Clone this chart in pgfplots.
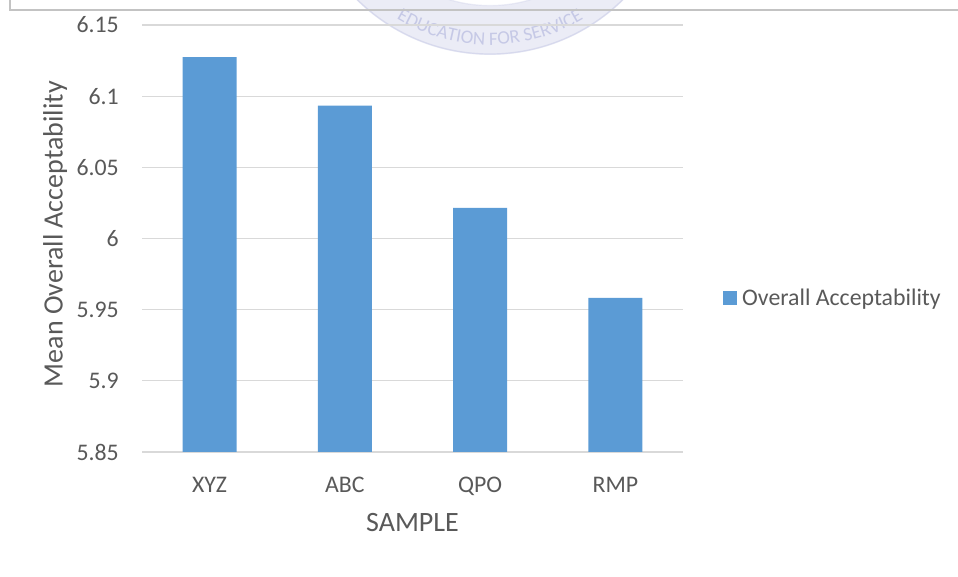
\documentclass[border=0pt]{standalone}
\usepackage{fontspec}
\setmainfont{Carlito}
\usepackage{pgfplots}
\pgfplotsset{compat=1.18}
\usetikzlibrary{decorations.text}
\definecolor{barblue}{HTML}{5B9BD5}
\definecolor{txt}{HTML}{595959}
\definecolor{gridc}{HTML}{D9D9D9}
\definecolor{seal}{HTML}{C6C9E6}
\newcommand{\tickfont}{\fontsize{23.8}{28}\selectfont}
\newcommand{\titlefont}{\fontsize{28}{32}\selectfont}

\begin{document}
\begin{tikzpicture}
\useasboundingbox (0pt,0pt) rectangle (958pt,577pt);
% faint seal watermark at the top
\begin{scope}
 \clip (0pt,0pt) rectangle (958pt,577pt);
 \fill[seal!35,even odd rule] (490pt,712pt) circle (190pt) (490pt,712pt) circle (140pt);
 \draw[seal!70,line width=1.2pt] (490pt,712pt) circle (189pt);
 \draw[seal!60] (490pt,712pt) circle (141pt);
 \path[decorate,decoration={text along path,text align=center,text color=seal,
   text={|\fontsize{19}{19}\selectfont|EDUCATION FOR SERVICE}}]
   (490pt,712pt) ++(230:180pt) arc[start angle=230,end angle=310,radius=180pt];
\end{scope}
% chart border
\draw[gridc!90!black,line width=1.3pt] (10pt,577pt) -- (10pt,567pt) -- (958pt,567pt);

\begin{axis}[at={(142pt,125pt)},anchor=south west,scale only axis,
 width=541pt,height=427pt,
 ybar,bar width=54pt,
 xmin=-0.5,xmax=3.5,ymin=5.85,ymax=6.15,
 xtick={0,1,2,3},xticklabels={XYZ,ABC,QPO,RMP},
 ytick={5.85,5.9,5.95,6,6.05,6.1,6.15},
 yticklabels={5.85,5.9,5.95,6,6.05,6.1,6.15},
 axis line style={draw=none},major tick length=0pt,
 ymajorgrids=true,grid style={gridc,line width=1.3pt},
 tick label style={font=\tickfont,text=txt,inner sep=0pt},
 yticklabel style={anchor=east,xshift=-23pt},
 xticklabel style={anchor=north,yshift=-25pt},
 xlabel={SAMPLE},ylabel={Mean Overall Acceptability},
 xlabel style={font=\titlefont,text=txt,inner sep=0pt,
   at={(axis description cs:0.5,-0.1429)},anchor=north},
 ylabel style={font=\titlefont,text=txt,inner sep=0pt,
   at={(axis description cs:-0.183,0.51)},anchor=north},
 legend style={at={(axis description cs:1.074,0.3607)},anchor=west,
   draw=none,fill=none,inner sep=0pt,font=\tickfont,text=txt,
   column sep=5pt,nodes={inner sep=0pt}},
 legend image code/.code={\fill[#1] (0pt,-7pt) rectangle (14pt,7pt);},
]
\addplot[fill=barblue,draw=none] coordinates
 {(0,6.1274) (1,6.0934) (2,6.0216) (3,5.9583)};
\addlegendentry{Overall Acceptability}
\end{axis}
\end{tikzpicture}
\end{document}
